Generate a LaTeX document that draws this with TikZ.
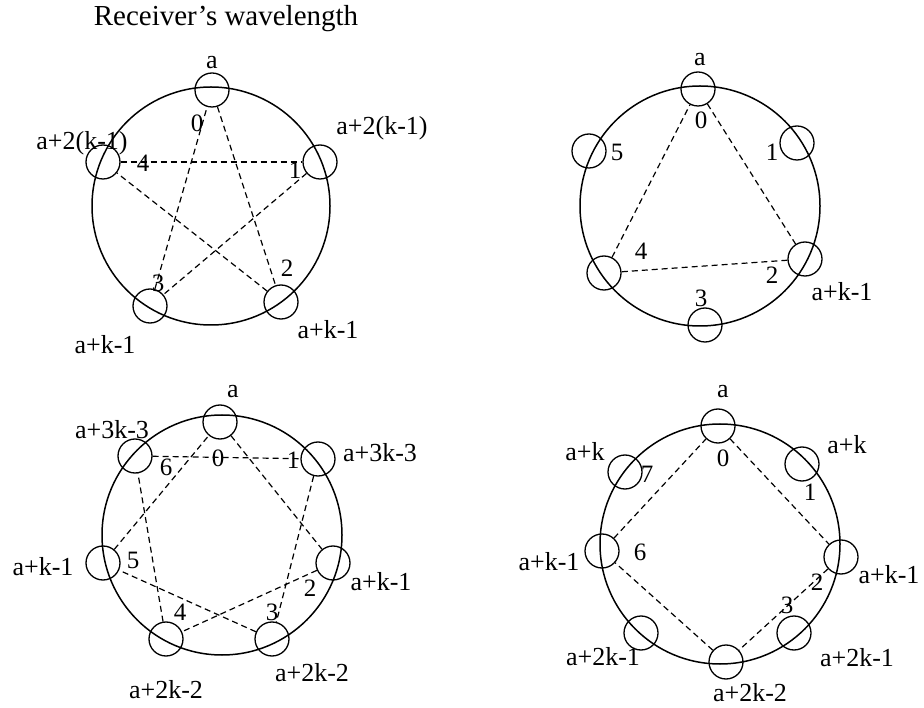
\documentclass[tikz,border=0pt]{standalone}
\usepackage{fontspec}
\setmainfont{Liberation Serif}
\begin{document}
\begin{tikzpicture}[x=1pt,y=-1pt,
  bigc/.style={draw, line width=1.5pt},
  smallc/.style={circle, draw, line width=1.3pt, minimum size=34pt, inner sep=0pt},
  link/.style={draw, line width=1.2pt, dash pattern=on 6pt off 4pt},
  lbl/.style={inner sep=0pt, font=\fontsize{26}{31}\selectfont},
  num/.style={inner sep=0pt, font=\fontsize{25}{30}\selectfont}]
\useasboundingbox[fill=white] (0,0) rectangle (924,708);

% ---------- title ----------
\node[lbl, font=\fontsize{29}{34}\selectfont] (title) at (226,19) {Receiver’s wavelength};

% ---------- diagram 1 (pentagon) ----------
\coordinate (c1) at (211,206);
\draw[bigc] (c1) circle (119);
\node[smallc] (A0) at (212,90) {};
\node[smallc] (A1) at (320,162) {};
\node[smallc] (A2) at (281,302) {};
\node[smallc] (A3) at (150,306) {};
\node[smallc] (A4) at (103,162) {};
\draw[link] (A0) -- (A2);
\draw[link] (A2) -- (A4);
\draw[link] (A4) -- (A1);
\draw[link] (A1) -- (A3);
\draw[link] (A3) -- (A0);
\node[num] (a0n) at (197,123) {0};
\node[num] (a1n) at (295,170) {1};
\node[num] (a2n) at (287,268) {2};
\node[num] (a3n) at (158,283) {3};
\node[num] (a4n) at (143,163) {4};
\node[lbl] (a0l) at (212,63) {a};
\node[lbl] (a4l) at (82,143) {a+2(k-1)};
\node[lbl] (a1l) at (382,128) {a+2(k-1)};
\node[lbl] (a3l) at (105,345) {a+k-1};
\node[lbl] (a2l) at (328,330) {a+k-1};

% ---------- diagram 2 (hexagon) ----------
\coordinate (c2) at (700,206);
\draw[bigc] (c2) circle (120);
\node[smallc] (B0) at (698,89) {};
\node[smallc] (B1) at (797,143) {};
\node[smallc] (B2) at (805,259) {};
\node[smallc] (B3) at (705,325) {};
\node[smallc] (B4) at (604,273) {};
\node[smallc] (B5) at (589,151) {};
\draw[link] (B0) -- (B2);
\draw[link] (B2) -- (B4);
\draw[link] (B4) -- (B0);
\node[num] (b0n) at (701,120) {0};
\node[num] (b1n) at (772,152) {1};
\node[num] (b2n) at (772,275) {2};
\node[num] (b3n) at (701,298) {3};
\node[num] (b4n) at (641,251) {4};
\node[num] (b5n) at (617,152) {5};
\node[lbl] (b0l) at (700,60) {a};
\node[lbl] (b2l) at (842,292) {a+k-1};

% ---------- diagram 3 (heptagon) ----------
\coordinate (c3) at (222,535);
\draw[bigc] (c3) circle (120);
\node[smallc] (C0) at (220,422) {};
\node[smallc] (C1) at (318,459) {};
\node[smallc] (C2) at (333,563) {};
\node[smallc] (C3) at (272,639) {};
\node[smallc] (C4) at (166,639) {};
\node[smallc] (C5) at (103,563) {};
\node[smallc] (C6) at (135,456) {};
\draw[link] (C0) -- (C2);
\draw[link] (C2) -- (C4);
\draw[link] (C4) -- (C6);
\draw[link] (C6) -- (C1);
\draw[link] (C1) -- (C3);
\draw[link] (C3) -- (C5);
\draw[link] (C5) -- (C0);
\node[num] (c0n) at (218,458) {0};
\node[num] (c1n) at (293,460) {1};
\node[num] (c2n) at (310,588) {2};
\node[num] (c3n) at (272,612) {3};
\node[num] (c4n) at (180,612) {4};
\node[num] (c5n) at (133,560) {5};
\node[num] (c6n) at (166,467) {6};
\node[lbl] (c0l) at (233,392) {a};
\node[lbl] (c6l) at (112,430) {a+3k-3};
\node[lbl] (c1l) at (380,453) {a+3k-3};
\node[lbl] (c5l) at (43,567) {a+k-1};
\node[lbl] (c2l) at (381,582) {a+k-1};
\node[lbl] (c3l) at (312,673) {a+2k-2};
\node[lbl] (c4l) at (166,690) {a+2k-2};

% ---------- diagram 4 (octagon) ----------
\coordinate (c4) at (720,544);
\draw[bigc] (c4) circle (120);
\node[smallc] (D0) at (718,426) {};
\node[smallc] (D1) at (802,464) {};
\node[smallc] (D2) at (841,557) {};
\node[smallc] (D3) at (794,633) {};
\node[smallc] (D4) at (726,662) {};
\node[smallc] (D5) at (641,633) {};
\node[smallc] (D6) at (602,551) {};
\node[smallc] (D7) at (625,472) {};
\draw[link] (D0) -- (D2);
\draw[link] (D2) -- (D4);
\draw[link] (D4) -- (D6);
\draw[link] (D6) -- (D0);
\node[num] (d0n) at (723,458) {0};
\node[num] (d1n) at (810,492) {1};
\node[num] (d2n) at (817,582) {2};
\node[num] (d3n) at (787,605) {3};
\node[num] (d6n) at (640,552) {6};
\node[num] (d7n) at (647,474) {7};
\node[lbl] (d0l) at (723,392) {a};
\node[lbl] (d1l) at (847,445) {a+k};
\node[lbl] (d7l) at (585,452) {a+k};
\node[lbl] (d6l) at (549,562) {a+k-1};
\node[lbl] (d2l) at (889,575) {a+k-1};
\node[lbl] (d3l) at (857,658) {a+2k-1};
\node[lbl] (d5l) at (603,657) {a+2k-1};
\node[lbl] (d4l) at (750,693) {a+2k-2};
\end{tikzpicture}
\end{document}
